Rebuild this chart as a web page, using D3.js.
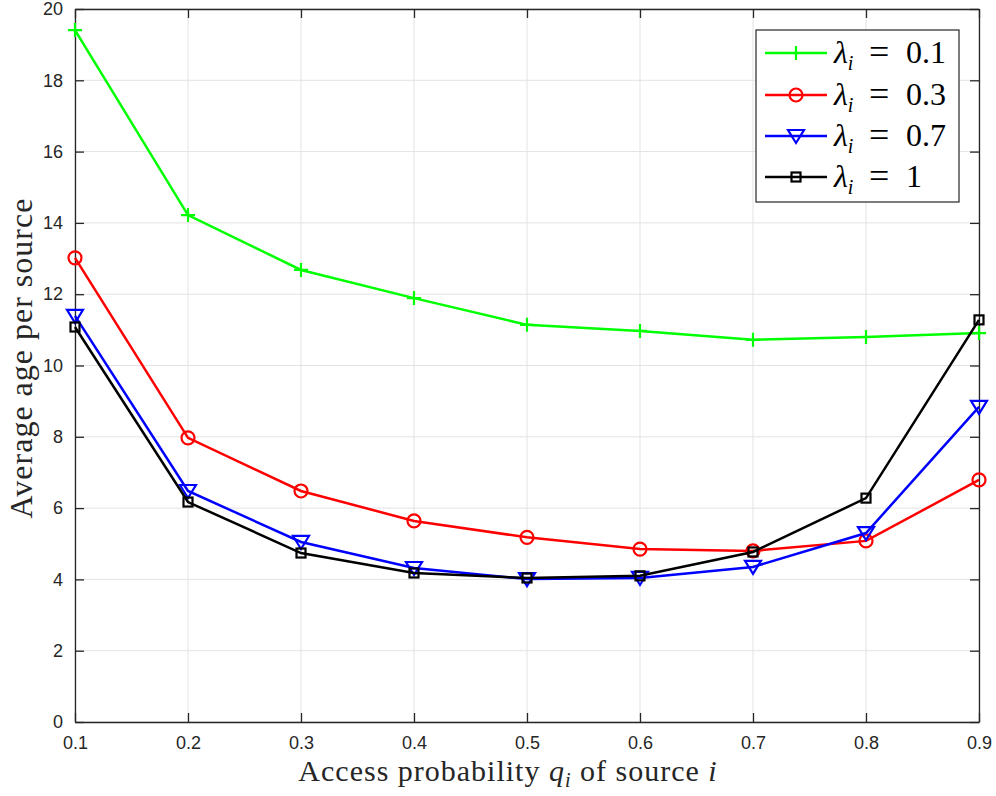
<!DOCTYPE html>
<html><head><meta charset="utf-8">
<script src="https://cdn.jsdelivr.net/npm/d3@7"></script>
<style>body{margin:0;background:#fff}svg{display:block}</style>
</head><body>
<svg id="c" width="996" height="796"></svg>
<script>
const xValues = [0.1,0.2,0.3,0.4,0.5,0.6,0.7,0.8,0.9];
const lambda01 = [19.41,14.22,12.68,11.89,11.14,10.97,10.72,10.80,10.91];
const lambda03 = [13.02,7.97,6.48,5.64,5.18,4.85,4.80,5.08,6.79];
const lambda07 = [11.39,6.48,5.05,4.32,4.01,4.04,4.35,5.30,8.84];
const lambda1  = [11.08,6.17,4.74,4.18,4.04,4.10,4.77,6.28,11.28];
const seriesNames = ["0.1","0.3","0.7","1"];
const xTicks = [0.1,0.2,0.3,0.4,0.5,0.6,0.7,0.8,0.9];
const yTicks = [0,2,4,6,8,10,12,14,16,18,20];

const series = [
  {name:seriesNames[0], vals:lambda01, color:"#00ff00", marker:"plus"},
  {name:seriesNames[1], vals:lambda03, color:"#ff0000", marker:"circle"},
  {name:seriesNames[2], vals:lambda07, color:"#0000ff", marker:"tri"},
  {name:seriesNames[3], vals:lambda1,  color:"#000000", marker:"square"}
];

const L=75,R=979,T=9,B=722;
const svg=d3.select("#c");
const x=d3.scaleLinear().domain([0.1,0.9]).range([L,R]);
const y=d3.scaleLinear().domain([0,20]).range([B,T]);

// grid
const g=svg.append("g");
g.selectAll(".gx").data(xTicks).join("line").attr("x1",d=>x(d)).attr("x2",d=>x(d)).attr("y1",T).attr("y2",B).attr("stroke","#e3e3e3").attr("stroke-width",1);
g.selectAll(".gy").data(yTicks).join("line").attr("y1",d=>y(d)).attr("y2",d=>y(d)).attr("x1",L).attr("x2",R).attr("stroke","#e3e3e3").attr("stroke-width",1);

// axes
const axCol="#262626";
const xa=svg.append("g").attr("transform",`translate(0,${B})`).call(d3.axisBottom(x).tickValues(xTicks).tickFormat(d3.format(".1f")).tickSizeInner(-9).tickSizeOuter(0).tickPadding(14));
const ya=svg.append("g").attr("transform",`translate(${L},0)`).call(d3.axisLeft(y).tickValues(yTicks).tickFormat(d3.format("d")).tickSizeInner(-9).tickSizeOuter(0).tickPadding(12));
const xt=svg.append("g").attr("transform",`translate(0,${T})`).call(d3.axisTop(x).tickValues(xTicks).tickFormat("").tickSizeInner(-9).tickSizeOuter(0));
const yr=svg.append("g").attr("transform",`translate(${R},0)`).call(d3.axisRight(y).tickValues(yTicks).tickFormat("").tickSizeInner(-9).tickSizeOuter(0));
[xa,ya,xt,yr].forEach(a=>{a.attr("font-size",null).attr("font-family",null);
  a.selectAll("path,line").attr("stroke",axCol).attr("stroke-width",1.3);
  a.selectAll("text").attr("fill","#262626").attr("font-family","'Liberation Sans',Arial,sans-serif").attr("font-size",18);});

// lines
const line=d3.line().x((d,i)=>x(xValues[i])).y(d=>y(d));
function marker(sel,type,color,cx,cy){
  const m=sel.append("g").attr("transform",`translate(${cx},${cy})`);
  if(type==="plus"){m.append("path").attr("d","M-7,0H7M0,-7V7").attr("stroke",color).attr("stroke-width",2.2).attr("fill","none");}
  else if(type==="circle"){m.append("circle").attr("r",6.5).attr("stroke",color).attr("stroke-width",2.2).attr("fill","none");}
  else if(type==="tri"){m.append("path").attr("d","M-8,-6L8,-6L0,7Z").attr("stroke",color).attr("stroke-width",2.2).attr("fill","none");}
  else {m.append("rect").attr("x",-4.5).attr("y",-4.5).attr("width",9).attr("height",9).attr("stroke",color).attr("stroke-width",2.2).attr("fill","none");}
}
series.forEach(s=>{
  svg.append("path").datum(s.vals).attr("d",line).attr("fill","none").attr("stroke",s.color).attr("stroke-width",2.5);
  s.vals.forEach((v,i)=>marker(svg,s.marker,s.color,x(xValues[i]),y(v)));
});

// legend
const lg=svg.append("g");
lg.append("rect").attr("x",756).attr("y",30).attr("width",203).attr("height",172).attr("fill","#fff").attr("stroke","#262626").attr("stroke-width",1.2);
const ly=[53,95,136,177];
const serif="'Liberation Serif','DejaVu Serif',serif";
series.forEach((s,i)=>{
  lg.append("line").attr("x1",765).attr("x2",827).attr("y1",ly[i]).attr("y2",ly[i]).attr("stroke",s.color).attr("stroke-width",2.5);
  marker(lg,s.marker,s.color,796,ly[i]);
  const base=ly[i]+10;
  const t=lg.append("text").attr("x",834).attr("y",base).style("font-family",serif).style("font-size","32px").attr("fill","#000");
  t.append("tspan").style("font-style","italic").text("λ");
  t.append("tspan").attr("dy",7).style("font-size","20px").style("font-style","italic").text("i");
  lg.append("text").attr("x",869).attr("y",base+1).style("font-family",serif).style("font-size","36px").attr("fill","#000").text("=");
  lg.append("text").attr("x",906).attr("y",base).style("font-family",serif).style("font-size","32px").attr("fill","#000").text(s.name);
});

// axis titles
const xtitle=svg.append("text").attr("x",508).attr("y",781).attr("text-anchor","middle").style("font-family",serif).style("font-size","30px").style("letter-spacing","1px").attr("fill","#262626");
xtitle.append("tspan").text("Access probability ");
xtitle.append("tspan").style("font-style","italic").text("q");
xtitle.append("tspan").attr("dy",6).style("font-size","20px").style("font-style","italic").text("i");
xtitle.append("tspan").attr("dy",-6).text(" of source ");
xtitle.append("tspan").style("font-style","italic").text("i");
svg.append("text").attr("transform","translate(32,358) rotate(-90)").attr("text-anchor","middle").style("font-family",serif).style("font-size","32px").style("letter-spacing","1px").attr("fill","#262626").text("Average age per source");
</script>
</body></html>
